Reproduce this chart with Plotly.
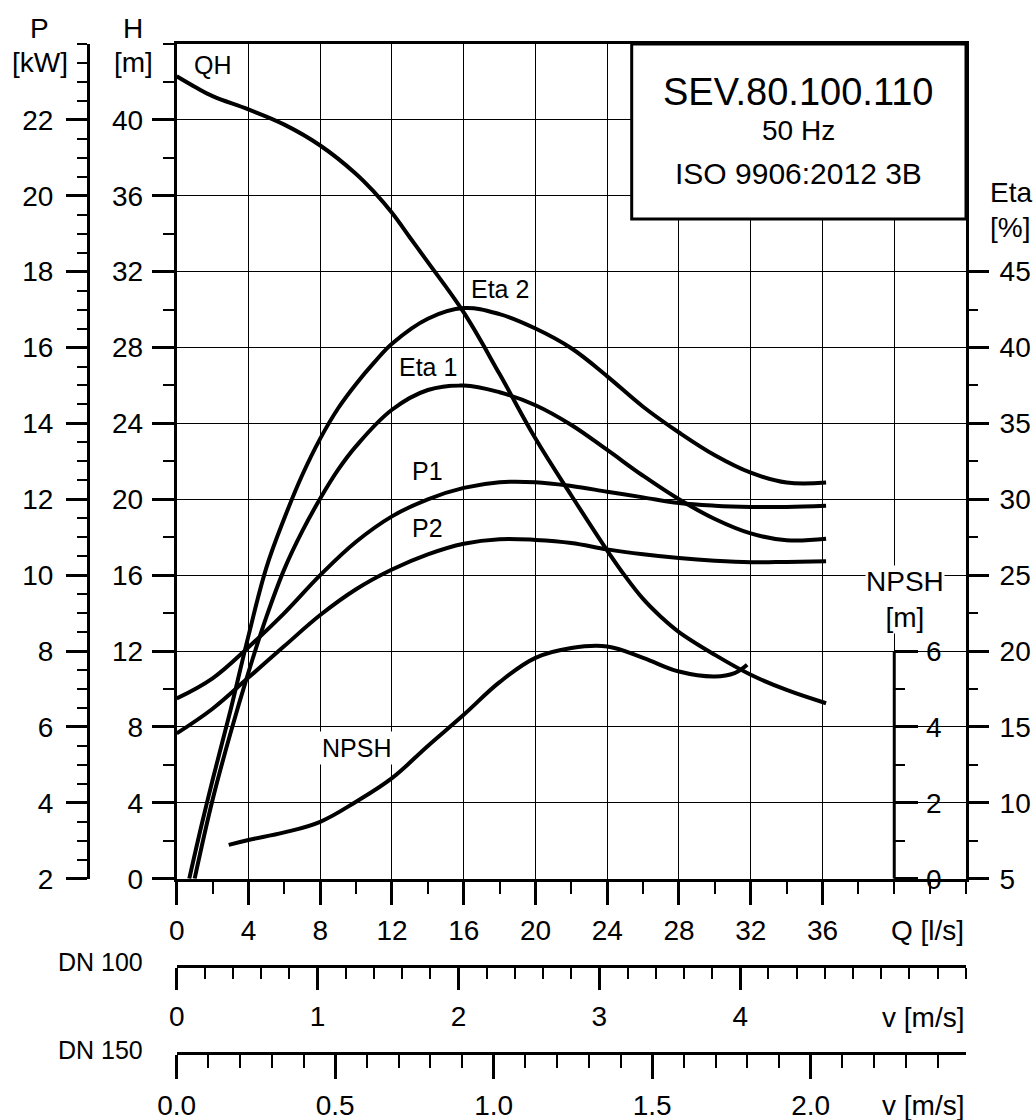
import numpy as np
import plotly.graph_objects as go

# flow rate Q [l/s] and the curves
q_qh = [0, 1, 2, 4, 6, 8, 10, 11, 12, 13, 14, 16, 18, 20, 22, 24, 25, 26, 27, 28, 30, 32,
        34, 36.2]
h_qh = [42.3, 41.75, 41.25, 40.55, 39.75, 38.65, 37.15, 36.2, 35.1, 33.8, 32.5, 29.85,
        26.6, 23.2, 20.2, 17.3, 15.95, 14.75, 13.8, 13.0, 11.8, 10.75, 9.95, 9.25]

q_eta2 = [0.7, 1.4, 2, 3, 4, 5, 6, 7, 8, 9, 10, 11, 12, 14, 16, 18, 20, 22, 24, 26, 28,
          30, 32, 34, 36.2]
eta2 = [5.0, 8.6, 11.5, 16.1, 21.0, 25.5, 28.75, 31.6, 34.0, 36.0, 37.6, 39.0, 40.25,
        41.9, 42.6, 42.2, 41.25, 39.95, 38.1, 36.1, 34.4, 32.9, 31.75, 31.1, 31.1]

q_eta1 = [1, 2, 3, 4, 5, 6, 7, 8, 9, 10, 12, 14, 16, 18, 20, 22, 24, 26, 28, 30, 32, 34,
          36.2]
eta1 = [5.0, 10.2, 14.6, 18.6, 22.25, 25.4, 27.9, 30.05, 31.95, 33.5, 35.9, 37.2, 37.5,
        37.05, 36.2, 34.9, 33.25, 31.55, 30.0, 28.7, 27.75, 27.3, 27.4]

q_p = [0, 2, 4, 6, 8, 10, 12, 14, 16, 18, 20, 22, 24, 26, 28, 30, 32, 34, 36.2]
p1 = [6.75, 7.28, 8.1, 9.0, 10.0, 10.88, 11.55, 12.0, 12.3, 12.45, 12.45, 12.35, 12.2,
      12.05, 11.9, 11.83, 11.8, 11.8, 11.83]
p2 = [5.83, 6.48, 7.3, 8.13, 8.95, 9.63, 10.15, 10.55, 10.83, 10.95, 10.93, 10.85, 10.68,
      10.55, 10.45, 10.38, 10.34, 10.35, 10.37]

q_npsh = [2.9, 4, 6, 8, 10, 12, 14, 16, 18, 20, 22, 24, 26, 28, 30, 31.1, 31.8]
npsh = [0.89, 1.02, 1.22, 1.5, 2.03, 2.65, 3.5, 4.32, 5.18, 5.82, 6.08, 6.12, 5.82,
        5.46, 5.33, 5.42, 5.64]

q_ticks = list(range(0, 45, 4))
h_ticks = list(range(0, 45, 4))
p_ticks = list(range(2, 25, 2))
eta_ticks = list(range(5, 46, 5))
npsh_ticks = [0, 2, 4, 6]
v100_ticks = [0, 1, 2, 3, 4, 5]
v150_ticks = [0.0, 0.5, 1.0, 1.5, 2.0]

Q_MAX = 44
H_MAX = 44
P_RANGE = [2, 24]
ETA_RANGE = [5, 60]
NPSH_RANGE = [0, 22]
v100_max = Q_MAX / 1000 / (np.pi * 0.100 ** 2 / 4)
v150_max = Q_MAX / 1000 / (np.pi * 0.150 ** 2 / 4)

W, HT = 1035, 1120
FONT = 'Liberation Sans, Arial, Helvetica, sans-serif'


def fx(px):
    return px / W


def fy(py):
    return 1 - py / HT


x_dom = [fx(176.7), fx(966)]
y_dom = [fy(878.7), fy(44)]

tickfont = dict(family=FONT, size=28, color='black')
major = dict(ticks='outside', tickcolor='black', tickwidth=3, tickfont=tickfont,
             zeroline=False, fixedrange=True, automargin=False)


def minor(vals, length):
    return dict(tickvals=list(vals), ticks='outside', ticklen=length, tickwidth=2,
                tickcolor='black', showgrid=False)


fig = go.Figure()

line = dict(color='black', width=4, shape='spline', smoothing=1.1)
fig.add_trace(go.Scatter(x=q_qh, y=h_qh, mode='lines', line=line, yaxis='y', name='QH'))
fig.add_trace(go.Scatter(x=q_eta2, y=eta2, mode='lines', line=line, yaxis='y3', name='Eta 2'))
fig.add_trace(go.Scatter(x=q_eta1, y=eta1, mode='lines', line=line, yaxis='y3', name='Eta 1'))
fig.add_trace(go.Scatter(x=q_p, y=p1, mode='lines', line=line, yaxis='y2', name='P1'))
fig.add_trace(go.Scatter(x=q_p, y=p2, mode='lines', line=line, yaxis='y2', name='P2'))
fig.add_trace(go.Scatter(x=q_npsh, y=npsh, mode='lines', line=line, yaxis='y4', name='NPSH'))
# empty traces so the velocity scales get drawn
fig.add_trace(go.Scatter(x=[], y=[], xaxis='x2', yaxis='y', hoverinfo='skip'))
fig.add_trace(go.Scatter(x=[], y=[], xaxis='x3', yaxis='y', hoverinfo='skip'))

fig.update_layout(
    width=W, height=HT,
    margin=dict(l=0, r=0, t=0, b=0),
    paper_bgcolor='white', plot_bgcolor='white',
    showlegend=False,
    font=dict(family=FONT, color='black'),
    xaxis=dict(domain=x_dom, range=[0, Q_MAX], anchor='y',
               tickvals=q_ticks, ticktext=[str(v) for v in q_ticks[:-2]] + ['', ''],
               ticklen=23, minor=minor(range(0, 45, 2), 12),
               showgrid=True, gridcolor='black', gridwidth=1.2,
               showline=True, linewidth=3, linecolor='black', mirror=True,
               ticklabelstandoff=2, **major),
    xaxis2=dict(overlaying='x', anchor='free', position=fy(966), side='bottom',
                range=[0, v100_max], tickvals=v100_ticks,
                ticktext=[str(v) for v in v100_ticks[:-1]] + [''],
                ticklen=22, minor=minor(np.arange(0, v100_max, 0.2), 11),
                showgrid=False, showline=True, linewidth=3, linecolor='black',
                ticklabelstandoff=2, **major),
    xaxis3=dict(overlaying='x', anchor='free', position=fy(1053), side='bottom',
                range=[0, v150_max], tickvals=v150_ticks,
                ticktext=['%.1f' % v for v in v150_ticks],
                ticklen=24, minor=minor(np.arange(0, v150_max, 0.1), 13),
                showgrid=False, showline=True, linewidth=3, linecolor='black',
                ticklabelstandoff=2, **major),
    yaxis=dict(domain=y_dom, range=[0, H_MAX], anchor='x',
               tickvals=h_ticks, ticktext=[str(v) for v in h_ticks[:-1]] + [''],
               ticklen=22, minor=minor(range(0, 45, 2), 11),
               showgrid=True, gridcolor='black', gridwidth=1.2,
               showline=True, linewidth=3, linecolor='black', mirror=True,
               ticklabelstandoff=3, **major),
    yaxis2=dict(overlaying='y', anchor='free', position=fx(88), side='left',
                range=P_RANGE, tickvals=p_ticks,
                ticktext=[str(v) for v in p_ticks[:-1]] + [''],
                ticklen=21, minor=minor(np.arange(2, 24.01, 0.5), 10),
                showgrid=False, showline=True, linewidth=3, linecolor='black',
                ticklabelstandoff=7, **major),
    yaxis3=dict(overlaying='y', anchor='x', side='right',
                range=ETA_RANGE, tickvals=eta_ticks,
                ticktext=[str(v) for v in eta_ticks],
                ticklen=22, minor=minor(np.arange(7.5, 45, 5), 11),
                showgrid=False, showline=False, ticklabelstandoff=5, **major),
    yaxis4=dict(overlaying='y', anchor='free', position=fx(893.5), side='right',
                range=NPSH_RANGE, tickvals=npsh_ticks,
                ticktext=[str(v) for v in npsh_ticks],
                ticklen=23, minor=minor([1, 3, 5], 10),
                showgrid=False, showline=False, ticklabelstandoff=3, **major),
)

# NPSH scale only runs from 0 to 6 m
fig.add_shape(type='line', xref='x', yref='y4', x0=40, x1=40,
              y0=npsh_ticks[0], y1=npsh_ticks[-1],
              line=dict(color='black', width=3))

# title block
fig.add_shape(type='rect', xref='paper', yref='paper',
              x0=fx(631.7), x1=fx(966), y0=fy(219), y1=fy(44),
              fillcolor='white', line=dict(color='black', width=3), layer='above')


def note(text, x, y, size=28, xanchor='center', **kw):
    fig.add_annotation(text=text, x=x, y=y, xref='paper', yref='paper',
                       xanchor=xanchor, yanchor='middle', showarrow=False,
                       font=dict(family=FONT, size=size, color='black'), **kw)


note('SEV.80.100.110', fx(798), fy(92), size=38)
note('50 Hz', fx(798), fy(130), size=28)
note('ISO 9906:2012 3B', fx(798), fy(173), size=30)

note('P', fx(39), fy(28))
note('[kW]', fx(40), fy(62))
note('H', fx(133), fy(28))
note('[m]', fx(133), fy(62))
note('Eta', fx(1011), fy(193))
note('[%]', fx(1010), fy(227))
note('NPSH<br>[m]', fx(905), fy(599), bgcolor='white', borderpad=0)

note('Q [l/s]', fx(966), fy(930), xanchor='right')
note('v [m/s]', fx(966), fy(1017), xanchor='right')
note('v [m/s]', fx(966), fy(1105), xanchor='right')
note('DN 100', fx(145), fy(962), size=25, xanchor='right')
note('DN 150', fx(145), fy(1050), size=25, xanchor='right')

# curve labels, placed in Q / H coordinates
labels = [('QH', 2.0, 42.9), ('Eta 2', 18.0, 31.1), ('Eta 1', 14.0, 27.0),
          ('P1', 14.0, 21.5), ('P2', 14.0, 18.5), ('NPSH', 10.0, 6.9)]
for text, lq, lh in labels:
    fig.add_annotation(text=text, x=lq, y=lh, xref='x', yref='y', showarrow=False,
                       bgcolor='white', borderpad=2,
                       font=dict(family=FONT, size=25, color='black'))

# the page body margin would push the figure off the window
fig.write_html('out.html', config={'displayModeBar': False},
               post_script="document.body.style.margin = '0';")
